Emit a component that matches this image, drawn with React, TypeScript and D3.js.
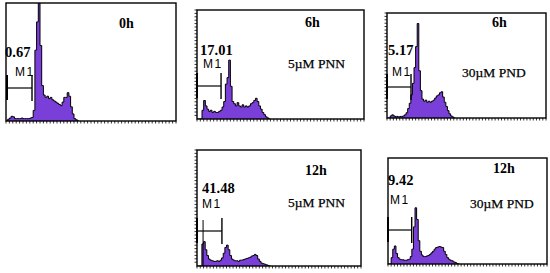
import { useEffect, useRef } from 'react';
import * as d3 from 'd3';

// histogram counts per channel (100 = top of frame), 100 channels on x
const counts0h = [0, 1.5, 2.5, 4, 3.5, 2, 2, 2, 2, 2.5, 2, 2, 2, 2, 2.5, 3, 9, 60, 84, 130, 64, 30, 22, 20, 21, 19, 20, 18, 17, 16, 15, 14, 13, 16, 20, 20, 24, 21, 12, 6, 2, 1, 0];
const counts6hPNN = [0, 0, 0, 8, 17, 12, 9, 7, 8, 6, 7, 6, 6, 7, 8, 11, 16, 32, 38, 54, 30, 16, 14, 12, 15, 12, 11, 13, 11, 12, 11, 12, 14, 15, 17, 19, 16, 12, 9, 6, 4, 2, 1, 0];
const counts6hPND = [0, 0, 2, 3, 2, 1.5, 1.5, 1, 1.5, 1.5, 2, 3, 5, 9, 14, 22, 33, 48, 68, 90, 45, 26, 18, 16, 17, 15, 16, 15, 16, 17, 19, 21, 22, 24, 25, 20, 15, 11, 7, 4, 2, 1, 0];
const counts12hPNN = [0, 0, 0, 19, 21, 14, 9, 6, 5, 4.5, 4, 4, 4.5, 4, 5, 7, 11, 16, 18, 14, 9, 6, 5, 4.5, 4.5, 4, 5, 5, 5.5, 6, 6.5, 7, 7.5, 8.5, 9, 10, 9, 6, 4, 2.5, 2, 1.5, 1, 0.5, 0];
const counts12hPND = [0, 0, 6, 14, 17, 10, 6, 4.5, 4, 4, 3.5, 3.5, 4, 4.5, 7, 14, 35, 53, 42, 22, 12, 8.5, 7, 7, 7.5, 8, 9, 10.5, 12, 14, 15.5, 16, 16.5, 16, 15.5, 12, 9, 6, 4.5, 3.5, 3, 2, 1.5, 0.5, 0];

const timeLabels = ['0h', '6h', '6h', '12h', '12h'];
const m1Percents = ['0.67', '17.01', '5.17', '41.48', '9.42'];
const treatments = ['', '5\u00b5M PNN', '30\u00b5M PND', '5\u00b5M PNN', '30\u00b5M PND'];
const gates = [[0.6, 15.3], [0, 14.4], [0, 15.1], [0, 15.2], [0, 14.9]];

const CHANNELS = 100;

// frames and label offsets (layout only)
const panels = [
  { counts: counts0h, x: 6, y: 3, w: 170, h: 118, pct: [-1, 54], m1: [9, 73], time: [113, 25], treat: [0, 0], gy: 85, leftTicks: false },
  { counts: counts6hPNN, x: 197, y: 10, w: 167, h: 109, pct: [3, 45], m1: [6, 58], time: [108, 17], treat: [91, 58], gy: 76, leftTicks: true },
  { counts: counts6hPND, x: 387, y: 13, w: 159, h: 105, pct: [1, 42], m1: [5, 63], time: [105, 14], treat: [75, 64], gy: 74, leftTicks: true },
  { counts: counts12hPNN, x: 197, y: 150, w: 164, h: 116, pct: [5, 43], m1: [5, 58], time: [108, 25], treat: [91, 57], gy: 81, leftTicks: true },
  { counts: counts12hPND, x: 388, y: 158, w: 159, h: 106, pct: [0, 27], m1: [2, 46], time: [105, 15], treat: [82, 50], gy: 72, leftTicks: false },
];

const App = () => {
  const svgRef = useRef(null);

  useEffect(() => {
    const svg = d3.select(svgRef.current);
    svg.selectAll('*').remove();

    panels.forEach((p, i) => {
      const g = svg.append('g').attr('transform', `translate(${p.x},${p.y})`);

      const x = d3.scaleLinear().domain([0, CHANNELS]).range([0, p.w]);
      const y = d3.scaleLinear().domain([0, 100]).range([p.h, 0]);

      const pts = p.counts.map((v, c) => [c, v]);
      pts.push([p.counts.length, 0]);

      g.append('clipPath').attr('id', `clip${i}`)
        .append('rect').attr('width', p.w).attr('height', p.h);

      const hist = g.append('g').attr('clip-path', `url(#clip${i})`);

      hist.append('path')
        .datum(pts)
        .attr('fill', '#7b3fd9')
        .attr('d', d3.area().curve(d3.curveStepAfter)
          .x(d => x(d[0])).y0(p.h).y1(d => y(d[1])));

      hist.append('path')
        .datum(pts)
        .attr('fill', 'none')
        .attr('stroke', '#000')
        .attr('stroke-width', 1)
        .attr('d', d3.line().curve(d3.curveStepAfter)
          .x(d => x(d[0])).y(d => y(d[1])));

      // frame
      g.append('rect')
        .attr('width', p.w).attr('height', p.h)
        .attr('fill', 'none').attr('stroke', '#000').attr('stroke-width', 1.4);

      // bottom ticks
      const bt = d3.range(0, 51).map(k => k * p.w / 50);
      g.selectAll('.bt').data(bt).enter().append('line')
        .attr('x1', d => d).attr('x2', d => d)
        .attr('y1', p.h).attr('y2', p.h + 2.5)
        .attr('stroke', '#000').attr('stroke-width', 0.8);

      if (p.leftTicks) {
        const lt = d3.range(0, Math.floor(p.h / 3.4)).map(k => k * 3.4);
        g.selectAll('.lt').data(lt).enter().append('line')
          .attr('x1', -2.5).attr('x2', 0)
          .attr('y1', d => d).attr('y2', d => d)
          .attr('stroke', '#000').attr('stroke-width', 0.8);
      }

      // M1 gate marker
      const [g0, g1] = gates[i];
      const gx0 = x(g0), gx1 = x(g1);
      const mk = g.append('g').attr('stroke', '#000');
      mk.append('line').attr('x1', gx0).attr('x2', gx1).attr('y1', p.gy).attr('y2', p.gy).attr('stroke-width', 1.2);
      mk.append('line').attr('x1', gx0).attr('x2', gx0).attr('y1', p.gy - 13).attr('y2', p.gy + 12).attr('stroke-width', 2);
      mk.append('line').attr('x1', gx1).attr('x2', gx1).attr('y1', p.gy - 13).attr('y2', p.gy + 13).attr('stroke-width', 1.4);
      if (i === 3) {
        mk.append('line').attr('x1', x(3.7)).attr('x2', x(3.7)).attr('y1', p.gy - 11).attr('y2', p.h).attr('stroke-width', 1);
      }

      g.append('text')
        .attr('x', p.pct[0]).attr('y', p.pct[1])
        .attr('font-family', '"Liberation Serif", serif')
        .attr('font-weight', 'bold').attr('font-size', 14.5)
        .text(m1Percents[i]);

      g.append('text')
        .attr('x', p.m1[0]).attr('y', p.m1[1])
        .attr('font-family', '"Liberation Sans", sans-serif')
        .attr('font-size', 12).attr('letter-spacing', 1.5)
        .text('M1');

      g.append('text')
        .attr('x', p.time[0]).attr('y', p.time[1])
        .attr('font-family', '"Liberation Serif", serif')
        .attr('font-weight', 'bold').attr('font-size', 14)
        .text(timeLabels[i]);

      if (treatments[i]) {
        g.append('text')
          .attr('x', p.treat[0]).attr('y', p.treat[1])
          .attr('font-family', '"Liberation Serif", serif')
          .attr('font-size', 13.5)
          .attr('stroke', '#000').attr('stroke-width', 0.25)
          .text(treatments[i]);
      }
    });
  }, []);

  return (
    <svg ref={svgRef} width={550} height={273}
      style={{ position: 'absolute', left: 0, top: 0, background: '#fff' }} />
  );
};

export default App;
